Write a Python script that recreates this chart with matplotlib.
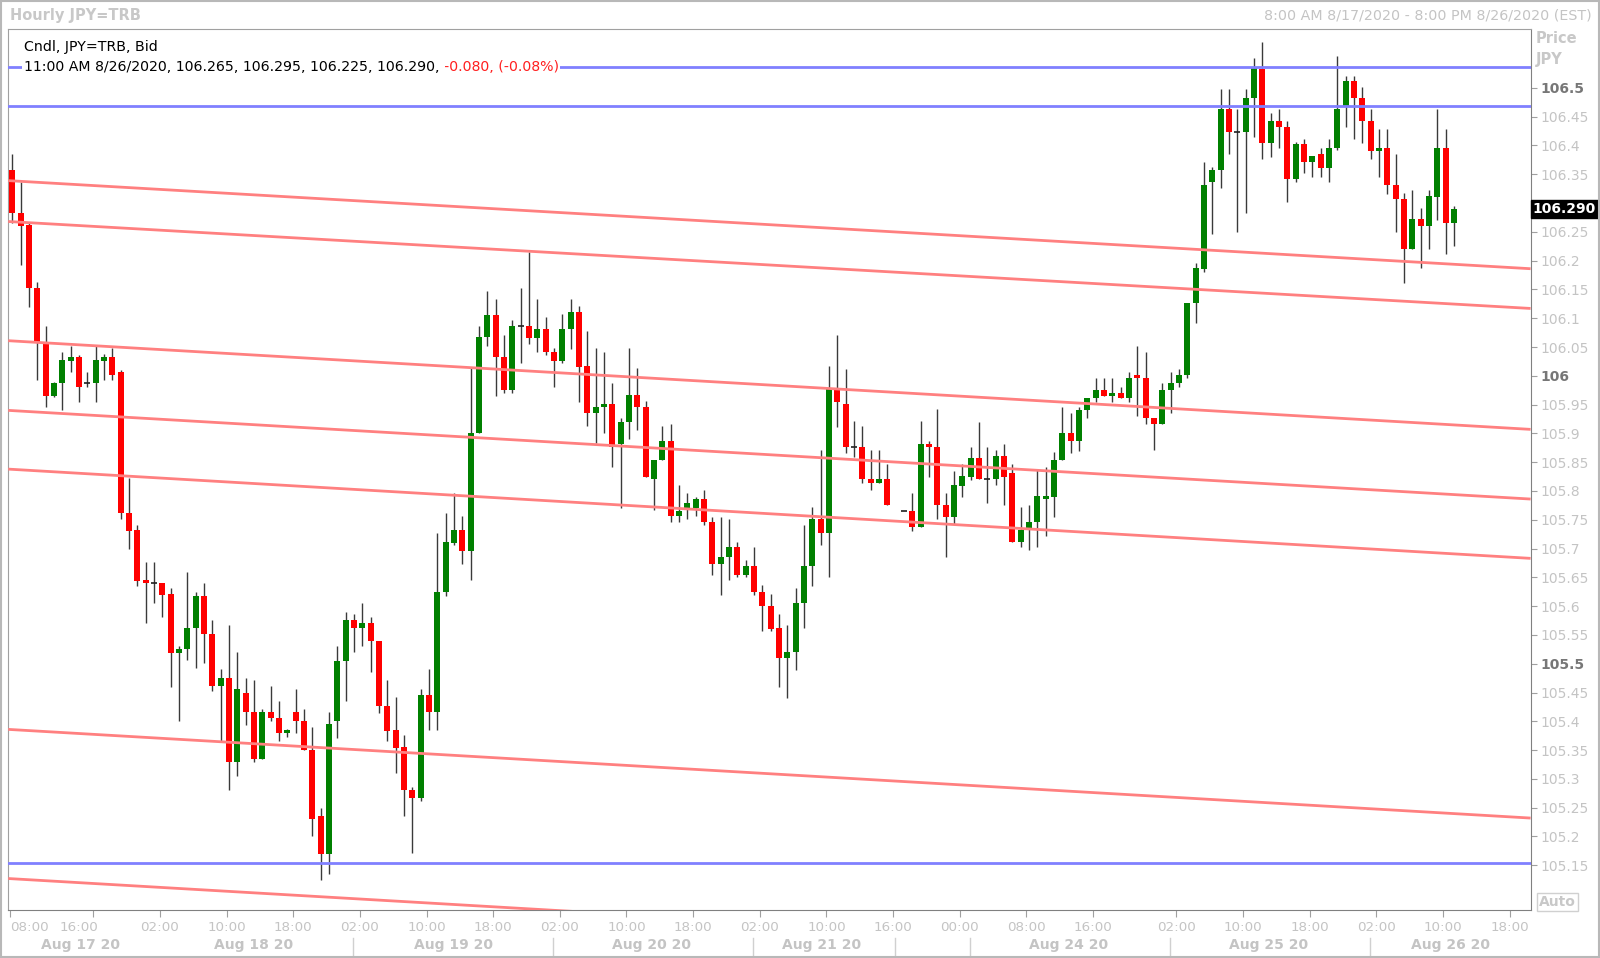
import numpy as np
import matplotlib
matplotlib.use("Agg")
import matplotlib.pyplot as plt
import matplotlib.transforms as mtransforms
from matplotlib.patches import Rectangle

nan = np.nan

# hourly JPY=TRB bid candles, Aug 17 08:00 .. Aug 26 11:00 (slot 106 = weekend gap)
opens = [106.357, 106.282, 106.262, 106.152, 106.056, 105.965, 105.987, 106.026, 106.032, 105.987,
         105.987, 106.026, 106.032, 106.007, 105.761, 105.732, 105.645, 105.641, 105.641, 105.621,
         105.519, 105.525, 105.562, 105.617, 105.552, 105.461, 105.475, 105.330, 105.450, 105.416,
         105.334, 105.416, 105.406, 105.379, 105.417, 105.400, 105.350, 105.235, 105.170, 105.400,
         105.505, 105.576, 105.562, 105.571, 105.540, 105.427, 105.385, 105.356, 105.281, 105.267,
         105.446, 105.417, 105.625, 105.710, 105.732, 105.696, 105.901, 106.067, 106.106, 106.032,
         105.975, 106.086, 106.086, 106.066, 106.082, 106.042, 106.026, 106.082, 106.111, 106.017,
         105.936, 105.946, 105.951, 105.882, 105.920, 105.967, 105.946, 105.820, 105.853, 105.886,
         105.757, 105.768, 105.770, 105.786, 105.747, 105.674, 105.685, 105.702, 105.654, 105.670,
         105.625, 105.600, 105.562, 105.510, 105.520, 105.606, 105.670, 105.751, 105.727, 105.978,
         105.951, 105.877, 105.877, 105.820, 105.814, 105.820, nan, 105.766, 105.766, 105.737,
         105.882, 105.877, 105.776, 105.755, 105.809, 105.824, 105.857, 105.820, 105.820, 105.861,
         105.831, 105.712, 105.732, 105.747, 105.786, 105.790, 105.853, 105.901, 105.886, 105.941,
         105.961, 105.975, 105.965, 105.971, 105.961, 106.001, 105.997, 105.926, 105.916, 105.975,
         105.987, 106.001, 106.126, 106.185, 106.337, 106.357, 106.463, 106.423, 106.423, 106.482,
         106.533, 106.405, 106.442, 106.432, 106.342, 106.402, 106.372, 106.386, 106.361, 106.396,
         106.467, 106.512, 106.483, 106.442, 106.390, 106.396, 106.332, 106.307, 106.221, 106.272,
         106.261, 106.311, 106.396, 106.265]
highs = [106.386, 106.337, 106.265, 106.163, 106.086, 105.990, 106.042, 106.052, 106.036, 106.007,
         106.051, 106.038, 106.048, 106.010, 105.822, 105.741, 105.676, 105.676, 105.641, 105.631,
         105.530, 105.660, 105.625, 105.641, 105.576, 105.490, 105.567, 105.521, 105.475, 105.472,
         105.421, 105.461, 105.436, 105.386, 105.456, 105.421, 105.391, 105.249, 105.417, 105.531,
         105.590, 105.586, 105.606, 105.582, 105.540, 105.472, 105.442, 105.376, 105.286, 105.456,
         105.490, 105.727, 105.761, 105.796, 105.757, 106.013, 106.086, 106.148, 106.133, 106.071,
         106.097, 106.152, 106.215, 106.133, 106.102, 106.048, 106.107, 106.133, 106.121, 106.077,
         106.048, 106.042, 105.987, 105.926, 106.048, 106.013, 105.957, 105.853, 105.912, 105.916,
         105.810, 105.796, 105.790, 105.801, 105.755, 105.755, 105.751, 105.712, 105.680, 105.702,
         105.636, 105.621, 105.586, 105.567, 105.631, 105.741, 105.772, 105.872, 106.017, 106.071,
         106.011, 105.922, 105.912, 105.872, 105.872, 105.847, nan, 105.766, 105.796, 105.922,
         105.887, 105.942, 105.796, 105.835, 105.847, 105.877, 105.920, 105.876, 105.872, 105.882,
         105.847, 105.772, 105.776, 105.838, 105.842, 105.868, 105.946, 105.936, 105.946, 105.961,
         105.997, 105.997, 105.997, 105.981, 106.007, 106.052, 106.042, 105.926, 105.987, 106.007,
         106.011, 106.126, 106.196, 106.372, 106.362, 106.498, 106.498, 106.463, 106.498, 106.552,
         106.579, 106.457, 106.463, 106.442, 106.406, 106.412, 106.382, 106.396, 106.411, 106.556,
         106.521, 106.521, 106.502, 106.463, 106.428, 106.428, 106.386, 106.317, 106.323, 106.292,
         106.323, 106.463, 106.428, 106.295]
lows = [106.265, 106.192, 106.120, 105.993, 105.946, 105.963, 105.941, 106.006, 105.955, 105.980,
        105.955, 105.993, 105.992, 105.751, 105.700, 105.635, 105.570, 105.605, 105.581, 105.460,
        105.400, 105.507, 105.492, 105.501, 105.452, 105.365, 105.281, 105.305, 105.394, 105.330,
        105.334, 105.400, 105.365, 105.373, 105.379, 105.350, 105.200, 105.125, 105.135, 105.371,
        105.436, 105.520, 105.531, 105.485, 105.415, 105.365, 105.310, 105.235, 105.171, 105.262,
        105.385, 105.385, 105.617, 105.706, 105.674, 105.645, 105.901, 106.052, 105.965, 105.971,
        105.971, 106.022, 106.056, 106.042, 106.037, 105.981, 106.022, 106.046, 105.955, 105.912,
        105.884, 105.901, 105.842, 105.770, 105.891, 105.906, 105.824, 105.767, 105.853, 105.747,
        105.747, 105.751, 105.757, 105.741, 105.654, 105.619, 105.645, 105.650, 105.650, 105.619,
        105.556, 105.556, 105.460, 105.440, 105.489, 105.562, 105.635, 105.706, 105.650, 105.911,
        105.866, 105.859, 105.814, 105.801, 105.814, 105.776, nan, 105.766, 105.731, 105.737,
        105.825, 105.751, 105.685, 105.743, 105.790, 105.819, 105.820, 105.780, 105.810, 105.776,
        105.712, 105.702, 105.698, 105.702, 105.721, 105.755, 105.853, 105.866, 105.870, 105.926,
        105.955, 105.965, 105.955, 105.961, 105.955, 105.930, 105.916, 105.871, 105.916, 105.936,
        105.981, 105.997, 106.091, 106.181, 106.246, 106.327, 106.386, 106.250, 106.282, 106.415,
        106.376, 106.380, 106.396, 106.302, 106.337, 106.352, 106.346, 106.346, 106.337, 106.392,
        106.432, 106.411, 106.405, 106.376, 106.346, 106.315, 106.250, 106.161, 106.221, 106.187,
        106.221, 106.270, 106.211, 106.225]
closes = [106.282, 106.261, 106.152, 106.059, 105.965, 105.987, 106.027, 106.032, 105.980, 105.987,
          106.027, 106.032, 106.001, 105.761, 105.731, 105.644, 105.640, 105.641, 105.619, 105.519,
          105.525, 105.562, 105.617, 105.552, 105.461, 105.475, 105.330, 105.456, 105.417, 105.334,
          105.416, 105.405, 105.379, 105.385, 105.400, 105.350, 105.230, 105.170, 105.395, 105.505,
          105.576, 105.562, 105.571, 105.540, 105.426, 105.384, 105.354, 105.281, 105.267, 105.446,
          105.417, 105.625, 105.712, 105.732, 105.696, 105.901, 106.067, 106.106, 106.032, 105.975,
          106.086, 106.086, 106.066, 106.082, 106.041, 106.026, 106.082, 106.111, 106.016, 105.936,
          105.946, 105.951, 105.877, 105.920, 105.967, 105.946, 105.825, 105.853, 105.886, 105.757,
          105.766, 105.780, 105.786, 105.746, 105.674, 105.685, 105.702, 105.654, 105.670, 105.625,
          105.600, 105.560, 105.510, 105.520, 105.606, 105.670, 105.751, 105.727, 105.977, 105.955,
          105.876, 105.877, 105.820, 105.814, 105.820, 105.776, nan, 105.766, 105.737, 105.882,
          105.876, 105.776, 105.755, 105.810, 105.826, 105.857, 105.820, 105.820, 105.861, 105.825,
          105.712, 105.732, 105.747, 105.791, 105.791, 105.853, 105.901, 105.886, 105.941, 105.961,
          105.975, 105.965, 105.971, 105.961, 105.997, 105.997, 105.926, 105.916, 105.975, 105.987,
          106.001, 106.126, 106.187, 106.332, 106.357, 106.463, 106.423, 106.423, 106.483, 106.534,
          106.405, 106.442, 106.432, 106.342, 106.402, 106.372, 106.382, 106.361, 106.396, 106.463,
          106.512, 106.482, 106.442, 106.390, 106.396, 106.331, 106.307, 106.221, 106.272, 106.261,
          106.313, 106.396, 106.265, 106.290]

# trend channel (price at left and right edge of the chart) and horizontal levels
channel_start = [106.339, 106.268, 106.061, 105.940, 105.838, 105.386, 105.127]
channel_end = [106.186, 106.117, 105.907, 105.786, 105.683, 105.232, 104.973]
levels = [106.537, 106.468, 105.154]

time_ticks = [0, 10, 18, 26, 34, 42, 50, 58, 66, 74, 82, 90, 98, 106, 114, 122, 130,
              140, 148, 156, 164, 172, 180]
time_labels = ['08:00', '16:00', '02:00', '10:00', '18:00', '02:00', '10:00', '18:00',
               '02:00', '10:00', '18:00', '02:00', '10:00', '16:00', '00:00', '08:00',
               '16:00', '02:00', '10:00', '18:00', '02:00', '10:00', '18:00']
day_pos = [8.2, 28.9, 52.9, 76.7, 97.1, 126.8, 150.7, 172.6]
day_labels = ['Aug 17 20', 'Aug 18 20', 'Aug 19 20', 'Aug 20 20', 'Aug 21 20',
              'Aug 24 20', 'Aug 25 20', 'Aug 26 20']
day_breaks = [41, 65, 89, 106, 115, 139, 163]

price_ticks = np.round(np.arange(105.15, 106.501, 0.05), 2)
last_price = 106.290

o = np.array(opens); h = np.array(highs); l = np.array(lows); c = np.array(closes)
x = np.arange(len(o))
XMIN, XMAX = -0.5, 182.2

fig = plt.figure(figsize=(16, 9.58), dpi=100)
ax = fig.add_axes([0.005125, 0.0499, 0.9515, 0.92025])

ax.vlines(x, l, h, color='#3a3a3a', lw=1, zorder=2)
up = c > o
down = c < o
flat = c == o
ax.bar(x[up], (c - o)[up], bottom=o[up], width=0.7, color='#008000', lw=0, zorder=3)
ax.bar(x[down], (o - c)[down], bottom=c[down], width=0.7, color='#ff0000', lw=0, zorder=3)
ax.hlines(c[flat], x[flat] - 0.35, x[flat] + 0.35, color='#202020', lw=1.2, zorder=3)

for s, e in zip(channel_start, channel_end):
    ax.plot([XMIN, XMAX], [s, e], color='#ff8080', lw=2, zorder=4, solid_capstyle='butt')
for lv in levels:
    ax.axhline(lv, color='#8080ff', lw=2, zorder=4)

ax.set_xlim(XMIN, XMAX)
ax.set_ylim(105.072, 106.603)

for sp in ax.spines.values():
    sp.set_color('#a0a0a0')
ax.spines['right'].set_color('#808080')
ax.spines['bottom'].set_color('#808080')

# price axis
ax.yaxis.tick_right()
ax.set_yticks(price_ticks)
ylabels = ['' if abs(v - 106.3) < 1e-6 else f'{v:g}' for v in price_ticks]
ax.set_yticklabels(ylabels)
ax.tick_params(axis='y', direction='out', length=4, color='#a0a0a0', labelsize=10,
               labelcolor='#c4c4c4', pad=3)
for t, v in zip(ax.get_yticklabels(), price_ticks):
    if abs(v * 2 - round(v * 2)) < 1e-6:
        t.set_fontweight('bold')
        t.set_color('#777777')

# time axis
ax.set_xticks([t - 0.3 for t in time_ticks])
ax.set_xticklabels(time_labels)
ax.tick_params(axis='x', direction='out', length=5, color='#a0a0a0', labelsize=9.7,
               labelcolor='#c4c4c4', pad=3)
xl = ax.get_xticklabels()
xl[0].set_ha('left')
xl[1].set_ha('right')
xl[1].set_transform(xl[1].get_transform() +
                    mtransforms.ScaledTranslation(5 / 100, 0, fig.dpi_scale_trans))

trans = ax.get_xaxis_transform()
for p, lab in zip(day_pos, day_labels):
    ax.text(p, -0.0395, lab, transform=trans, ha='center', va='center', fontsize=10,
            fontweight='bold', color='#c4c4c4', clip_on=False)
for b in day_breaks:
    ax.plot([b - 0.1, b - 0.1], [-0.031, -0.052], transform=trans, color='#d0d0d0',
            lw=1, clip_on=False)

# last price box
ax.text(1.0015, last_price, f'{last_price:.3f}', transform=ax.get_yaxis_transform(),
        ha='left', va='center', fontsize=10, fontweight='bold', color='white',
        bbox=dict(facecolor='black', edgecolor='black', pad=1.5), clip_on=False, zorder=10)

# header texts
fig.text(0.00625, 0.9843, 'Hourly JPY=TRB', fontsize=10.5, fontweight='bold',
         color='#c8c8c8', va='center', ha='left')
fig.text(0.995, 0.9843, '8:00 AM 8/17/2020 - 8:00 PM 8/26/2020 (EST)', fontsize=10.3,
         color='#c4c4c4', va='center', ha='right')
fig.text(0.96, 0.9603, 'Price', fontsize=10.5, fontweight='bold', color='#c8c8c8',
         va='center', ha='left')
fig.text(0.96, 0.9384, 'JPY', fontsize=10.5, fontweight='bold', color='#c8c8c8',
         va='center', ha='left')
fig.text(0.9735, 0.0585, 'Auto', fontsize=10, fontweight='bold', color='#c8c8c8',
         va='center', ha='center',
         bbox=dict(facecolor='white', edgecolor='#d0d0d0', pad=1.5))

# info legend
fig.text(0.0148, 0.951, 'Cndl, JPY=TRB, Bid', fontsize=10.2, color='black',
         va='center', ha='left')
t1 = fig.text(0.0148, 0.9296, '11:00 AM 8/26/2020, 106.265, 106.295, 106.225, 106.290, ',
              fontsize=10.2, color='black', va='center', ha='left',
              bbox=dict(facecolor='white', edgecolor='none', pad=1))
ax.annotate('-0.080, (-0.08%)', xy=(1, 0.5), xycoords=t1, va='center', ha='left',
            fontsize=10.2, color='#ff2020', zorder=10,
            bbox=dict(facecolor='white', edgecolor='none', pad=1))

fig.add_artist(Rectangle((0.0005, 0.001), 0.999, 0.998, transform=fig.transFigure,
                         fill=False, edgecolor='#b8b8b8', lw=1.5))

fig.savefig('out.png', dpi=100, facecolor='white')
